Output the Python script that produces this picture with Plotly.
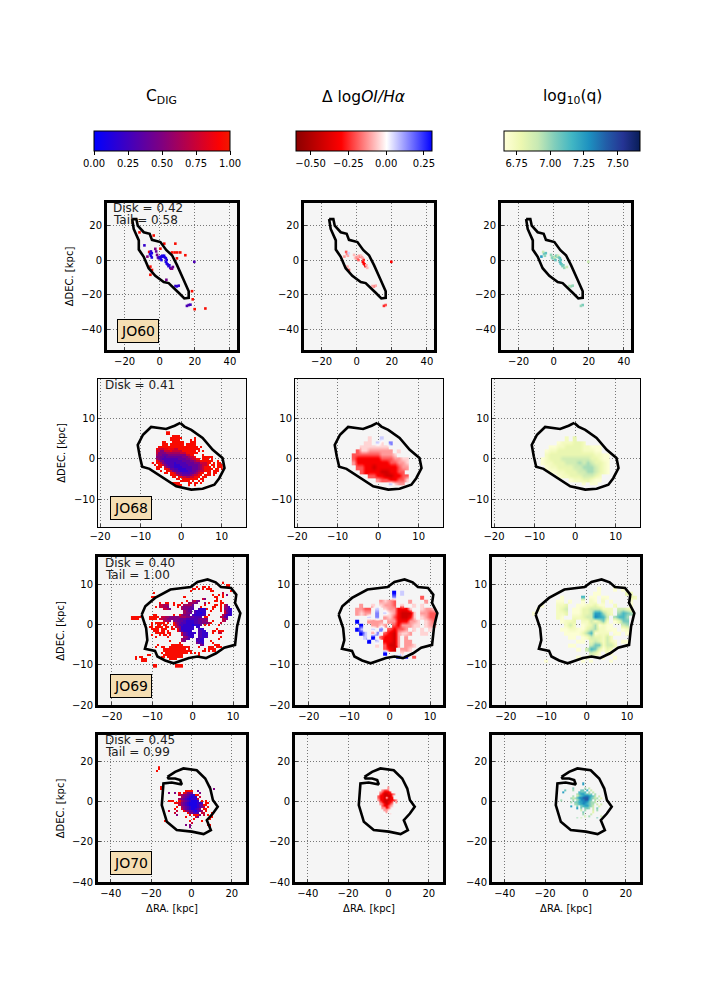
import plotly.graph_objects as go
from plotly.subplots import make_subplots

W = 720
H = 1008

# galaxy outlines in kpc
JO60_OUT_X = [-15.7, -13.3, -12.5, -9.1, -5.7, -4.4, 0.4, 3.8, 7, 9.8, 13.6, 16.5, 16.5, 14, 10.8, 7, 5.1, 2.3, -2.5, -6.3, -9.1, -11.9, -11.9, -14.8, -15.7]
JO60_OUT_Y = [23.7, 23.7, 19.9, 16.1, 15.2, 11.7, 10.4, 5.7, 2.8, -2.8, -11.4, -18, -21.8, -22.2, -18.9, -15.2, -13.3, -12.7, -9.1, -4.7, 1.9, 6.1, 11.4, 18, 23.7]
JO68_OUT_X = [-0.2, -1.6, -3.7, -7.4, -9.4, -10.7, -10.2, -9.6, -7.8, -5.7, -3.7, -1.2, 2.5, 5.3, 8.2, 9.4, 10.7, 10.2, 7.8, 5.3, 2.5, 0.8, -0.2]
JO68_OUT_Y = [8.8, 8.1, 7.3, 7.8, 5.9, 3.4, 0.6, -2, -2.5, -3.9, -5.2, -6.8, -7.6, -7.4, -6.4, -4.8, -2.3, 0.2, 2.2, 5.1, 7.1, 7.9, 8.8]
JO69_OUT_X = [-12.6, -11.7, -9.3, -5.5, -0.5, 1.2, 3.7, 5.7, 7, 9.5, 10.8, 10.5, 11.8, 11, 10.5, 7.8, 5.8, 3.3, 1.2, -0.9, -4.7, -6.8, -8.7, -9.3, -11.8, -11.2, -11.5, -12.6]
JO69_OUT_Y = [2.5, 4.6, 6.7, 8.8, 9.4, 10.7, 11.3, 10.6, 9.4, 9.2, 7.5, 5.4, 2.9, -0.4, -5, -5.7, -7.1, -8.3, -7.9, -8.3, -9.6, -8.9, -7.9, -6.5, -6, -3.8, -0.8, 2.5]
JO70_OUT_X = [-11.9, -8.1, -4, 2.6, 6.8, 9.3, 10.6, 13, 10.6, 7.6, 9.6, 6, 0.2, -7.3, -12.2, -14.7, -13.9, -9.8, -4.8, -5.6, -8.1, -11.4, -11.9]
JO70_OUT_Y = [12.2, 14.7, 16.4, 15.5, 11.4, 6.4, 0.7, -2.6, -6, -9.3, -14.2, -16.2, -15, -14.2, -10.1, -1.8, 8.9, 9.4, 8.4, 10.6, 11.4, 11.4, 12.2]

# value of each character used in the map rows below
CDIG_LEVELS = [0.02, 0.1, 0.2, 0.3, 0.4, 0.5, 0.62, 0.75, 0.87, 0.95]
OI_LEVELS = [-0.58, -0.42, -0.32, -0.2, -0.12, -0.05, 0.0, 0.06, 0.15, 0.3]
Q_LEVELS = [6.68, 6.74, 6.8, 6.88, 6.97, 7.06, 7.15, 7.24, 7.32, 7.42]

# JO60: scattered spaxels
JO60_X = [-6, -5.5, -5, -5, -4.5, -4.5, -2.5, -2, -1, -0.5, 0, 0.5, 1, 1, 1.5, 2, 2.5, 3, 3.5, 3.5, 4, 4, 4.5, 5, 5.5, 6, 6.5, 7, 3.8, 9.8, 10.8, 9, 16.5, 15.5, 17.5, 19.7, -8.7, -5.3, -4.4, -5.3, -3.4, 2.6, 8.9, 0.4, 7, 8.5, 10, 11.7, 14.6, 9.8, -11.5, 18.4, 18.8, 19.9, 26, -7, -1.5, 7.5]
JO60_Y = [4.7, 3.5, 5, 2.5, 4, 1.5, 6.5, 5, 1.5, 1, 1.8, 1, 2, 0, 2.5, 2, 2.5, 1.5, 1, -1, 0, -2, -2.5, -3.5, -3, -4.5, -5, -5, -11.4, -15.2, -14.8, -15, -26, -26.5, -25.8, -1, 8.5, -3.8, -5.7, -8.5, 14.2, 9.5, 9.5, 6.6, 4.4, 4.4, 4.4, 4.4, 2.8, 1, 16, -18, -22.7, -28.4, -28, 2, 3, -4]
JO60_CDIG = [0.95, 0.1, 0.2, 0.1, 0.1, 0.12, 0.5, 0.4, 0.3, 0.3, 0.15, 0.1, 0.1, 0.1, 0.1, 0.08, 0.08, 0.1, 0.1, 0.1, 0.12, 0.1, 0.12, 0.15, 0.15, 0.2, 0.5, 0.5, 0.45, 0.12, 0.2, 0.2, 0.3, 0.3, 0.25, 0.3, 0.2, 0.95, 0.95, 0.95, 0.95, 0.95, 0.95, 0.95, 0.95, 0.95, 0.95, 0.95, 0.95, 0.95, 0.95, 0.95, 0.95, 0.95, 0.95, 0.5, 0.45, 0.4]
JO60_OI = [-0.2, -0.15, None, -0.1, 0.05, None, None, None, -0.05, -0.1, -0.12, -0.15, -0.1, -0.2, -0.1, -0.15, -0.08, -0.12, -0.1, -0.3, -0.25, -0.3, -0.3, -0.35, -0.1, -0.08, None, None, None, -0.2, -0.1, -0.1, -0.2, -0.25, None, -0.3, None, -0.1, -0.2, None, None, None, None, None, None, None, None, None, None, None, None, None, None, None, None, -0.12, -0.08, None]
JO60_Q = [6.9, 7.05, None, 7.0, 7.1, None, None, None, 7.0, 7.05, 7.0, 6.95, 6.9, 7.1, 7.05, 7.0, 6.9, 7.05, 7.1, 7.1, 7.1, 7.15, 7.1, 7.05, 7.05, 7.0, None, None, None, 7.0, 7.0, 6.95, 7.05, 7.0, None, 6.9, None, None, None, None, None, None, None, None, None, None, None, None, None, None, None, None, None, None, None, 7.25, 7.0, 6.9]

# JO68 maps: first column at x0, top row at ytop, step in kpc
JO68_CDIG_X0 = -7
JO68_CDIG_TOP = 6.5
JO68_CDIG_STEP = 0.5
JO68_CDIG = [
    ".......99",
    ".......99",
    "..........9999",
    ".........999999......9",
    ".........99999.....9.9",
    ".....99...999999...999",
    ".....999.9999999.99999",
    "...99999999999999999999.9",
    "..9777889887799999999999.",
    "..77557778777779999999.9.9",
    "..755556666666777999999",
    "..6554445555555557799....9",
    "..55443444444445556779...99999",
    "..6543333333344445567799.999.9",
    "..9755333333333444455677999999..9",
    "9.997543333233333444455577799.9.99",
    ".9.9975433322233334444456779.99.999",
    "..999.75433222233333444567999.9.999",
    "..99..997443322223334445679999.99.9",
    "....9..9975443222233445677999.999",
    "......99.99755433334456799.99.99",
    ".........9997654444567799.999.9",
    "..........99.99776677999.99",
    "............99.99999999.99",
    "..............99999.9..9.9",
    "..........9999....99.99.9",
    "...........9999...9..9",
]
JO68_OI_X0 = -7
JO68_OI_TOP = 5
JO68_OI_STEP = 1
JO68_OI = [
    ".....5..7.",
    "....55.75.8",
    "...5555555.",
    "..355444444.5",
    ".33333334445.",
    ".32222223334455",
    ".42222222233445",
    "..3322122222344",
    "...32222112233",
    ".....3322112233.",
    ".......43322335",
    "..........7544.",
]
JO68_Q_X0 = -8
JO68_Q_TOP = 5
JO68_Q_STEP = 1
JO68_Q = [
    "......1.2.......",
    "....0111221......",
    "..0011222211000..",
    ".01122222211100..",
    ".1222222222221100",
    "01222333333322100",
    "01122233343432210",
    ".0112222334443210",
    "..001122233443210",
    "....01122233321..",
    ".......01122100..",
    "..........0.00...",
]

# JO69 maps
JO69_CDIG_X0 = -15
JO69_CDIG_TOP = 10.5
JO69_CDIG_STEP = 0.5
JO69_CDIG = [
    ".............................................9.",
    "...............................................99",
    "................................9..99.9.......999",
    "..............................99.9.9.999..........",
    ".............................9.........99........9",
    "...........9.................................7",
    "........................................9..9.9.5",
    "..........999.............9..............99..9",
    "...........9.......................75.....9..",
    "...........................9..6755.......99.9",
    "..............9..99..9...9..66655...6.9.....99.",
    "..............77666..9.99.66664.....9....99.9.75",
    "............9.77665....9.655544...9.....99..9.653",
    "................7765.....655443..32229..9...9.5532",
    "..........................6544.322222..9....9.7432",
    "..........................6554.322122.........7532",
    "...........99........9..96554.3222223.9......75322",
    "99999....99999.77665555566655443333.99......7643",
    "9999.....9999.776655555544433333345555.......765",
    "................7665.55444322223344556..9....76",
    "..........9.99999.9..9654332222334455569....7",
    "..........9..99.99...97533222212224.9.9....9",
    ".........99.9999.99.9.765222222.22.........",
    "..........9999.999..99.85222222..322......9.",
    "...........999.99.9....8532222...3322...99.999.",
    "............99999.99.....7432222.33222..9..77.",
    "..........9...9.99.9.....743222..33222.....",
    "............9.....9.......65322..33223......9",
    ".........................6543...3322.......9.",
    "...................9.....65.....3322...9...",
    "........................9.......5332....9.",
    ".............9......999999........54.....999",
    "............9..99..9999999999....9....999.999",
    "................99999999999.9.......9.9999",
    "................99999999999999.....99.9.99",
    "...............9.99999999999.9.9.9.",
    "........99......9999999999.......9.",
    "..9.99.........99.99999999.",
    "..9..999...........9999",
    ".....999..................",
    "....................9.......",
    "...........99.........9999.",
    "...........99.........9999.",
]
JO69_OI_X0 = -11
JO69_OI_TOP = 8
JO69_OI_STEP = 1
JO69_OI = [
    "............9.7........",
    "............8......3...",
    ".........4543...4...4..",
    "....4..5.5443.5..5.5...",
    "...4433.7.5442225..5445",
    "...4544.8.75421115.4433",
    "......7.8.45321125.5433",
    "...9..4444.44222445.543",
    "....9..4454.3244455.544",
    "...97..7.8.32334.5.5.5.",
    "....97.48.3214554..55..",
    ".....7.9.32214.4.......",
    "......9.7.2214.44......",
    "........5.3114.445.....",
    "..........321.445......",
    "..........9...5........",
    ".............9.9.3.....",
]
JO69_Q_X0 = -13
JO69_Q_TOP = 9
JO69_Q_STEP = 1
JO69_Q = [
    "................0...0.0...",
    "...............00......21.",
    ".......0....6.00.00.....21",
    "......00.0..0.10.1.0....0",
    "..0...112..0011200..1...0",
    ".0....123.0022333111.3321",
    "0.....112.0022377421.4654",
    "......10..112338763.4664",
    ".......0112.1131351.0255",
    "........131.01240100..34",
    ".......00110023411000.01",
    "........00002460111.00.0",
    ".........00.01322131....",
    "...........00.2321310.00",
    ".........00...3551331...",
    "...........0.3652021....",
    "..............320.10....",
    "...........0.0...0..0...",
    "...0........0.0....0....",
]

# JO70 maps
JO70_CDIG_X0 = -18
JO70_CDIG_TOP = 17
JO70_CDIG_STEP = 1
JO70_CDIG = [
    "..9.............................",
    "..9.............................",
    ".9..............................",
    "................................",
    "................................",
    "................................",
    "................................",
    "................................",
    "................................",
    "................................",
    "...99......................5....",
    "...9.........................5..",
    "...............9999..4...........",
    ".......5..5.9.97555...5..........",
    "............7655432299...........",
    ".............65432122.7..........",
    "............6543212227...........",
    ".......999..9654321112.9.9.......",
    "..........99754321111223.99......",
    "............75432111124499.......",
    "...........9.654321112356.9......",
    "..........9..7543211235.99.......",
    ".......7...7..9654321346.9.......",
    "..........7.....955333.77...9....",
    "...........5.....9.9995.7.9.9....",
    "...............9....75.....99....",
    "...................9.......9.....",
    ".....9...........9.....9.........",
    "..................7..............",
    "...............5.5........99.....",
    ".................5.........7.....",
]
JO70_OI_X0 = -7
JO70_OI_TOP = 7
JO70_OI_STEP = 1
JO70_OI = [
    ".......4.....",
    "....4334.....",
    "...432223....",
    "...32112234..",
    "..32211114...",
    "..32216122...",
    "..4221112234.",
    "...3211223.4.",
    "...4321234...",
    "....322345...",
    "....44235....",
    ".....445.....",
    "......4......",
    ".....6..5....",
]
JO70_Q_X0 = -13
JO70_Q_TOP = 9
JO70_Q_STEP = 1
JO70_Q = [
    "........4...7.............",
    "..........................",
    ".......5.....4.3..........",
    "...5...4...55.6.3.........",
    "..7.......6556.4.3........",
    ".........46775545.4.......",
    ".......4.3567887653.3.....",
    "......43468899975434.2....",
    ".4.....4.46889965.4.3.....",
    "......4.55778875443.......",
    "........4567876544.3.3....",
    "......7..4.5677543..2.....",
    ".........7.5.554.3.5......",
    "...........3.4...3.4......",
    "............5....2........",
    "............4...3.........",
    ".............3.4.....3....",
    ".........4.3.......5......",
]

TICK_STEP = [20, 10, 10, 20]
PANEL_LEFT = [[107, 304, 501], [98, 295, 492], [98, 295, 492], [98, 295, 492]]
PANEL_RIGHT = [[237, 434, 631], [246, 443, 640], [246, 443, 640], [246, 443, 640]]
PANEL_TOP = [203, 379, 557, 735]
PANEL_BOTTOM = [350, 527, 705, 882]
X_RANGES = [[-30, 44], [-20.5, 16], [-23.4, 13.2], [-46.3, 27]]
Y_RANGES = [[-52, 33], [-16.8, 19.6], [-20, 16.9], [-40, 33]]
FRAME_WIDTH = [3, 1, 3, 3]
NAMES = ["JO60", "JO68", "JO69", "JO70"]
NAME_BOX_X = [138, 131, 131, 131]
NAME_BOX_Y = [331, 508, 686, 863]
OUTLINES = [(JO60_OUT_X, JO60_OUT_Y), (JO68_OUT_X, JO68_OUT_Y), (JO69_OUT_X, JO69_OUT_Y), (JO70_OUT_X, JO70_OUT_Y)]
FRACTIONS = [["Disk = 0.42", "Tail = 0.58"], ["Disk = 0.41"], ["Disk = 0.40", "Tail = 1.00"], ["Disk = 0.45", "Tail = 0.99"]]
FRACTION_X = [111, 103, 103, 103]
FRACTION_Y = [[208, 220], [385], [563, 575], [740, 752]]

CDIG_SCALE = [[0, "#0000ff"], [0.5, "#800080"], [0.92, "#fc0202"], [1, "#f01a00"]]
OI_SCALE = [[0, "#8b0000"], [0.333, "#ff0000"], [0.667, "#ffffff"], [1, "#0000ff"]]
Q_SCALE = [[0, "#ffffd9"], [0.125, "#edf8b1"], [0.25, "#c7e9b4"], [0.375, "#7fcdbb"], [0.5, "#41b6c4"], [0.625, "#1d91c0"], [0.75, "#225ea8"], [0.875, "#253494"], [1, "#081d58"]]


def decode(rows, levels):
    width = max(len(r) for r in rows)
    z = []
    for r in reversed(rows):
        r = r.ljust(width, ".")
        z.append([levels[int(c)] if c != "." else None for c in r])
    return z


def add_map(fig, rows, levels, x0, top, step, row, col, smooth):
    fig.add_trace(go.Heatmap(
        z=decode(rows, levels),
        x0=x0,
        dx=step,
        y0=top - step * (len(rows) - 1),
        dy=step,
        coloraxis="coloraxis" + ("" if col == 1 else str(col)),
        zsmooth="best" if smooth else False,
        hoverongaps=False,
    ), row=row, col=col)


def add_points(fig, xs, ys, vals, row, col):
    keep = [(a, b, c) for a, b, c in zip(xs, ys, vals) if c is not None]
    fig.add_trace(go.Scatter(
        x=[k[0] for k in keep],
        y=[k[1] for k in keep],
        mode="markers",
        marker=dict(
            symbol="square",
            size=2.6,
            color=[k[2] for k in keep],
            coloraxis="coloraxis" + ("" if col == 1 else str(col)),
            line=dict(width=0),
        ),
    ), row=row, col=col)


fig = make_subplots(rows=4, cols=3)

# maps
add_points(fig, JO60_X, JO60_Y, JO60_CDIG, 1, 1)
add_points(fig, JO60_X, JO60_Y, JO60_OI, 1, 2)
add_points(fig, JO60_X, JO60_Y, JO60_Q, 1, 3)
add_map(fig, JO68_CDIG, CDIG_LEVELS, JO68_CDIG_X0, JO68_CDIG_TOP, JO68_CDIG_STEP, 2, 1, False)
add_map(fig, JO68_OI, OI_LEVELS, JO68_OI_X0, JO68_OI_TOP, JO68_OI_STEP, 2, 2, True)
add_map(fig, JO68_Q, Q_LEVELS, JO68_Q_X0, JO68_Q_TOP, JO68_Q_STEP, 2, 3, True)
add_map(fig, JO69_CDIG, CDIG_LEVELS, JO69_CDIG_X0, JO69_CDIG_TOP, JO69_CDIG_STEP, 3, 1, False)
add_map(fig, JO69_OI, OI_LEVELS, JO69_OI_X0, JO69_OI_TOP, JO69_OI_STEP, 3, 2, True)
add_map(fig, JO69_Q, Q_LEVELS, JO69_Q_X0, JO69_Q_TOP, JO69_Q_STEP, 3, 3, True)
add_map(fig, JO70_CDIG, CDIG_LEVELS, JO70_CDIG_X0, JO70_CDIG_TOP, JO70_CDIG_STEP, 4, 1, False)
add_map(fig, JO70_OI, OI_LEVELS, JO70_OI_X0, JO70_OI_TOP, JO70_OI_STEP, 4, 2, True)
add_map(fig, JO70_Q, Q_LEVELS, JO70_Q_X0, JO70_Q_TOP, JO70_Q_STEP, 4, 3, True)

annotations = []
for r in range(4):
    for c in range(3):
        ox, oy = OUTLINES[r]
        fig.add_trace(go.Scatter(x=ox, y=oy, mode="lines", line=dict(color="black", width=2.6)), row=r + 1, col=c + 1)

        axis_style = dict(
            dtick=TICK_STEP[r],
            tick0=0,
            showgrid=True,
            gridcolor="#777777",
            griddash="1px,2px",
            gridwidth=1,
            zeroline=False,
            showline=True,
            linecolor="black",
            linewidth=FRAME_WIDTH[r],
            mirror=True,
            ticks="inside",
            ticklen=3,
            tickfont=dict(size=10, color="black"),
        )
        fig.update_xaxes(domain=[PANEL_LEFT[r][c] / W, PANEL_RIGHT[r][c] / W], range=X_RANGES[r],
                         row=r + 1, col=c + 1, **axis_style)
        fig.update_yaxes(domain=[1 - PANEL_BOTTOM[r] / H, 1 - PANEL_TOP[r] / H], range=Y_RANGES[r],
                         row=r + 1, col=c + 1, **axis_style)
        if r == 3:
            fig.update_xaxes(title=dict(text="ΔRA. [kpc]", font=dict(size=10, color="black"), standoff=7),
                             row=r + 1, col=c + 1)
        if c == 0:
            fig.update_yaxes(title=dict(text="ΔDEC. [kpc]", font=dict(size=10, color="black"), standoff=6),
                             row=r + 1, col=c + 1)

    # name box and light fractions, first column only
    annotations.append(dict(
        x=NAME_BOX_X[r] / W, y=1 - NAME_BOX_Y[r] / H, xref="paper", yref="paper",
        xanchor="center", yanchor="middle",
        text=NAMES[r], showarrow=False, font=dict(size=14, color="black"),
        bgcolor="#f5deb3", bordercolor="black", borderwidth=1, borderpad=3,
    ))
    for line, py in zip(FRACTIONS[r], FRACTION_Y[r]):
        annotations.append(dict(
            x=FRACTION_X[r] / W, y=1 - py / H, xref="paper", yref="paper",
            text=line, showarrow=False, xanchor="left", yanchor="middle",
            font=dict(size=12, color="#222222"),
        ))

TITLES = ["C<sub>DIG</sub>", "Δ log<i>OI/Hα</i>", "log<sub>10</sub>(q)"]
TITLE_X = [161, 363.5, 572.5]
for t, tx in zip(TITLES, TITLE_X):
    annotations.append(dict(
        x=tx / W, y=1 - 97 / H, xref="paper", yref="paper",
        xanchor="center", yanchor="middle",
        text=t, showarrow=False, font=dict(size=15.5, color="black"),
    ))


def colourbar(cx, ticks, fmt):
    return dict(
        orientation="h",
        x=cx / W, xanchor="center",
        y=1 - 131 / H, yanchor="top",
        lenmode="pixels", len=136,
        thicknessmode="pixels", thickness=20,
        xpad=0, ypad=0,
        outlinecolor="black", outlinewidth=1,
        ticks="outside", ticklen=4, tickcolor="black",
        tickvals=ticks, tickformat=fmt,
        tickfont=dict(size=10, color="black"),
    )


fig.update_layout(
    width=W,
    height=H,
    margin=dict(l=0, r=0, t=0, b=0, autoexpand=False),
    paper_bgcolor="white",
    plot_bgcolor="#f5f5f5",
    font=dict(family="DejaVu Sans"),
    showlegend=False,
    annotations=annotations,
    coloraxis=dict(cmin=0, cmax=1, colorscale=CDIG_SCALE,
                   colorbar=colourbar(162, [0, 0.25, 0.5, 0.75, 1], ".2f")),
    coloraxis2=dict(cmin=-0.6, cmax=0.3, colorscale=OI_SCALE,
                    colorbar=colourbar(363.5, [-0.5, -0.25, 0, 0.25], ".2f")),
    coloraxis3=dict(cmin=6.66, cmax=7.67, colorscale=Q_SCALE,
                    colorbar=colourbar(572.5, [6.75, 7, 7.25, 7.5], ".2f")),
)

# the page's default body margin would push the figure 8px off
fig.write_html("out.html", config={"displayModeBar": False}, post_script="document.body.style.margin='0';")
